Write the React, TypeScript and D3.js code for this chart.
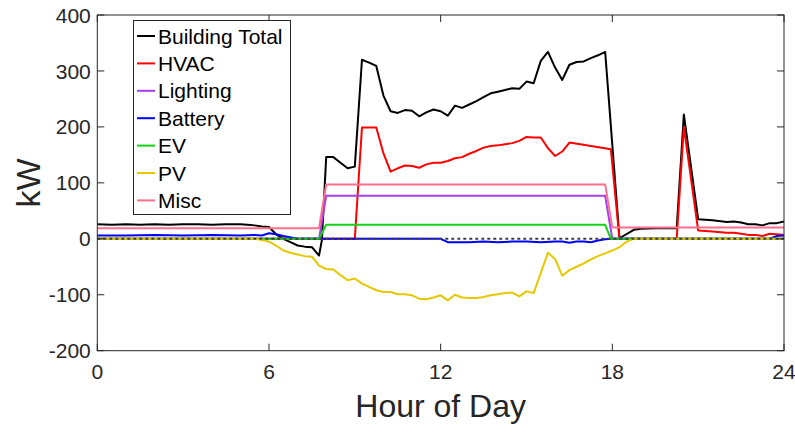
import { useRef, useEffect } from 'react';
import * as d3 from 'd3';

type Pt = [number, number];

// [hour, kW] breakpoints
const buildingTotal: Pt[] = [
  [0, 26], [0.5, 25], [1, 26], [1.5, 25], [2, 26], [2.5, 25], [3, 26], [3.5, 26], [4, 25], [4.5, 26], [5, 26],
  [5.25, 25], [5.5, 24], [5.75, 22], [6, 21], [6.25, 8], [6.5, 0], [6.75, -6], [7, -12], [7.25, -14], [7.5, -15],
  [7.75, -30], [7.85, -2], [8, 146], [8.25, 146], [8.5, 136], [8.75, 126], [9, 129], [9.25, 320], [9.5, 315],
  [9.75, 309], [10, 256], [10.25, 228], [10.5, 225], [10.75, 230], [11, 229], [11.25, 219], [11.5, 226],
  [11.75, 231], [12, 228], [12.25, 220], [12.5, 238], [12.75, 234], [13, 240], [13.25, 246], [13.5, 253],
  [13.75, 260], [14, 263], [14.25, 266], [14.5, 269], [14.75, 268], [15, 281], [15.25, 278], [15.5, 318],
  [15.75, 334], [16, 306], [16.25, 284], [16.5, 311], [16.75, 316], [17, 317], [17.25, 323], [17.5, 328],
  [17.75, 334], [18.25, 1], [18.75, 16], [19, 18], [19.5, 19], [20, 19], [20.25, 19], [20.5, 222], [21, 35],
  [21.25, 34], [21.5, 33], [22, 30], [22.25, 31], [22.5, 29], [22.75, 26], [23, 26], [23.25, 24], [23.5, 28],
  [23.75, 28], [24, 31],
];

const hvac: Pt[] = [
  [0, 0], [9, 0], [9.25, 199], [9.75, 199], [10, 153], [10.25, 120], [10.5, 126], [10.75, 131], [11, 130],
  [11.25, 127], [11.5, 133], [11.75, 136], [12, 136], [12.25, 139], [12.5, 144], [12.75, 146], [13, 152],
  [13.25, 157], [13.5, 163], [13.75, 166], [14, 167], [14.25, 169], [14.5, 171], [14.75, 175], [15, 182],
  [15.25, 181], [15.5, 181], [15.75, 162], [16, 148], [16.25, 156], [16.5, 172], [17.95, 160], [18.25, 0],
  [20.25, 0], [20.5, 200], [21, 15], [21.5, 13], [22, 11], [22.25, 11], [22.5, 9], [22.75, 7], [23, 7],
  [23.25, 5], [23.5, 9], [23.75, 8], [24, 7],
];

const lighting: Pt[] = [[0, 0], [7.75, 0], [8, 77], [17.75, 77], [18, 0], [24, 0]];

const battery: Pt[] = [
  [0, 6], [1, 6], [2, 7], [3, 6], [4, 7], [5, 6], [5.5, 7], [5.75, 6], [6, 10], [6.25, 8], [6.5, 5], [7, 0],
  [12, 0], [12.25, -6], [12.5, -6], [13, -6], [13.5, -5], [14, -6], [14.5, -5], [15, -5], [15.5, -6], [16, -5],
  [16.25, -5], [16.5, -7], [16.75, -5], [17, -5], [17.25, -6], [17.5, -3], [17.75, -1], [18, 0], [23.5, 0],
  [23.75, 5], [24, 6],
];

const ev: Pt[] = [[0, 0], [7.75, 0], [8, 25], [17.75, 25], [17.95, 0], [24, 0]];

const pv: Pt[] = [
  [0, 0], [5.5, 0], [5.75, -2], [6, -5], [6.25, -12], [6.5, -21], [6.75, -25], [7, -28], [7.25, -31],
  [7.5, -32], [7.75, -48], [8, -54], [8.25, -55], [8.5, -65], [8.75, -74], [9, -71], [9.25, -80], [9.5, -86],
  [9.75, -92], [10, -95], [10.25, -95], [10.5, -99], [10.75, -99], [11, -101], [11.25, -107], [11.5, -108],
  [11.75, -105], [12, -101], [12.25, -110], [12.5, -100], [12.75, -105], [13, -106], [13.25, -106],
  [13.5, -104], [13.75, -101], [14, -99], [14.25, -97], [14.5, -96], [14.75, -103], [15, -94], [15.25, -97],
  [15.75, -25], [16, -36], [16.25, -66], [16.5, -56], [16.75, -50], [17, -44], [17.25, -37], [17.5, -31],
  [17.75, -26], [18, -21], [18.25, -15], [18.5, -5], [18.75, 0], [24, 0],
];

const misc: Pt[] = [[0, 19], [7.75, 19], [8, 97], [17.75, 97], [18, 20], [24, 20]];

const seriesNames = ['Building Total', 'HVAC', 'Lighting', 'Battery', 'EV', 'PV', 'Misc'];
const seriesColors = ['#000000', '#ff0000', '#a43ff0', '#0000ff', '#14d214', '#e6c800', '#ff6f8a'];
const seriesData = [buildingTotal, hvac, lighting, battery, ev, pv, misc];

const xTicks = [0, 6, 12, 18, 24];
const yTicks = [-200, -100, 0, 100, 200, 300, 400];

const W = 795;
const H = 425;
const FONT = '"Liberation Sans", Arial, Helvetica, sans-serif';
const INK = '#262626';

export default function App() {
  const ref = useRef<SVGSVGElement>(null);

  useEffect(() => {
    const svg = d3.select(ref.current);
    svg.selectAll('*').remove();

    const left = 97.3, right = 784, top = 15, bottom = 350.7;
    const x = d3.scaleLinear().domain([0, 24]).range([left, right]);
    const y = d3.scaleLinear().domain([-200, 400]).range([bottom, top]);

    const line = d3.line<Pt>().x(d => x(d[0])).y(d => y(d[1]));

    const plot = svg.append('g');
    seriesData.forEach((data, i) => {
      plot.append('path')
        .datum(data)
        .attr('d', line)
        .attr('fill', 'none')
        .attr('stroke', seriesColors[i])
        .attr('stroke-width', 2)
        .attr('stroke-linejoin', 'round');
    });

    // dotted zero line
    plot.append('line')
      .attr('x1', x(0)).attr('x2', x(24))
      .attr('y1', y(0)).attr('y2', y(0))
      .attr('stroke', '#404040')
      .attr('stroke-width', 2)
      .attr('stroke-dasharray', '3 3');

    // frame + ticks (box on)
    const frame = svg.append('g').attr('stroke', INK).attr('stroke-width', 1).attr('fill', 'none');
    frame.append('rect')
      .attr('x', left).attr('y', top)
      .attr('width', right - left).attr('height', bottom - top);
    const tl = 7;
    xTicks.forEach(t => {
      frame.append('line').attr('x1', x(t)).attr('x2', x(t)).attr('y1', bottom).attr('y2', bottom - tl);
      frame.append('line').attr('x1', x(t)).attr('x2', x(t)).attr('y1', top).attr('y2', top + tl);
    });
    yTicks.forEach(t => {
      frame.append('line').attr('x1', left).attr('x2', left + tl).attr('y1', y(t)).attr('y2', y(t));
      frame.append('line').attr('x1', right).attr('x2', right - tl).attr('y1', y(t)).attr('y2', y(t));
    });

    const labels = svg.append('g').attr('font-family', FONT).attr('fill', INK);
    xTicks.forEach(t => {
      labels.append('text')
        .attr('x', x(t)).attr('y', bottom + 28)
        .attr('text-anchor', 'middle')
        .attr('font-size', 21)
        .text(t);
    });
    yTicks.forEach(t => {
      labels.append('text')
        .attr('x', left - 6.5).attr('y', y(t))
        .attr('dy', '0.36em')
        .attr('text-anchor', 'end')
        .attr('font-size', 21)
        .text(t);
    });
    labels.append('text')
      .attr('x', (left + right) / 2).attr('y', 417)
      .attr('text-anchor', 'middle')
      .attr('font-size', 32)
      .text('Hour of Day');
    labels.append('text')
      .attr('transform', `translate(40, ${(top + bottom) / 2}) rotate(-90)`)
      .attr('text-anchor', 'middle')
      .attr('font-size', 34)
      .text('kW');

    // legend
    const legend = svg.append('g');
    legend.append('rect')
      .attr('x', 133.5).attr('y', 20.5)
      .attr('width', 157).attr('height', 194)
      .attr('fill', '#fff')
      .attr('stroke', INK)
      .attr('stroke-width', 1);
    seriesNames.forEach((name, i) => {
      const ly = 36 + i * 27.4;
      legend.append('line')
        .attr('x1', 137).attr('x2', 155)
        .attr('y1', ly).attr('y2', ly)
        .attr('stroke', seriesColors[i])
        .attr('stroke-width', 2);
      legend.append('text')
        .attr('x', 158).attr('y', ly)
        .attr('dy', '0.36em')
        .attr('font-family', FONT)
        .attr('font-size', 21)
        .attr('fill', '#000')
        .text(name);
    });
  }, []);

  return (
    <svg
      ref={ref}
      width={W}
      height={H}
      style={{ position: 'absolute', left: 0, top: 0, background: '#fff' }}
    />
  );
}
